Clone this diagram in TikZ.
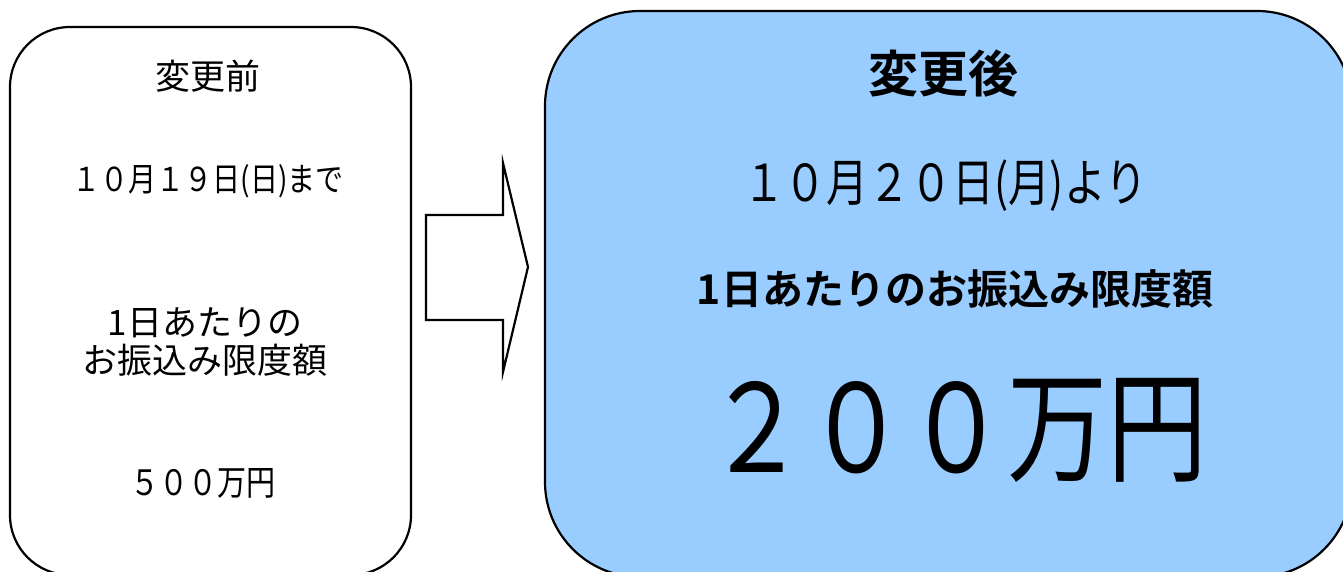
\documentclass[tikz,border=0pt]{standalone}
\usepackage{fontspec}
\setmainfont{Noto Sans CJK JP}[BoldFont={* Bold}]
\definecolor{afterblue}{HTML}{99CCFF}
\begin{document}
\begin{tikzpicture}[x=1pt,y=-1pt,
  box/.style={draw=black,line width=2.2pt},
  txt/.style={inner sep=0pt,anchor=center},
  fs/.style={font=\fontsize{#1pt}{#1pt}\selectfont},
  fsb/.style={font=\fontsize{#1pt}{#1pt}\selectfont\bfseries}]
\useasboundingbox (0,0) rectangle (1343,571);
% left box
\draw[box,fill=white,rounded corners=60pt] (10,27) rectangle (411,575);
% right box
\draw[box,fill=afterblue,rounded corners=95pt] (545,11) rectangle (1352,577);
% arrow
\draw[box,fill=white,line join=miter] (426,215) -- (503,215) -- (503,163) -- (528,267) -- (503,372) -- (503,320) -- (426,320) -- cycle;
% left texts
\node[txt,fs=35] (bt) at (208,76) {変更前};
\node[txt,fs=33,xscale=0.85] (bd) at (208,181) {１０月１９日(日)まで};
\node[txt,fs=35] (bl1) at (205,323) {1日あたりの};
\node[txt,fs=35] (bl2) at (205,360) {お振込み限度額};
\node[txt,fs=35,xscale=0.83] (ba) at (203,483) {５００万円};
% right texts
\node[txt,fsb=50] (at) at (943,73) {変更後};
\node[txt,fs=51,xscale=0.82] (ad) at (945,186) {１０月２０日(月)より};
\node[txt,fsb=41] (al) at (955,289) {1日あたりのお振込み限度額};
\node[txt,fs=122,xscale=0.82] (aa) at (957,430) {２００万円};
\end{tikzpicture}
\end{document}
